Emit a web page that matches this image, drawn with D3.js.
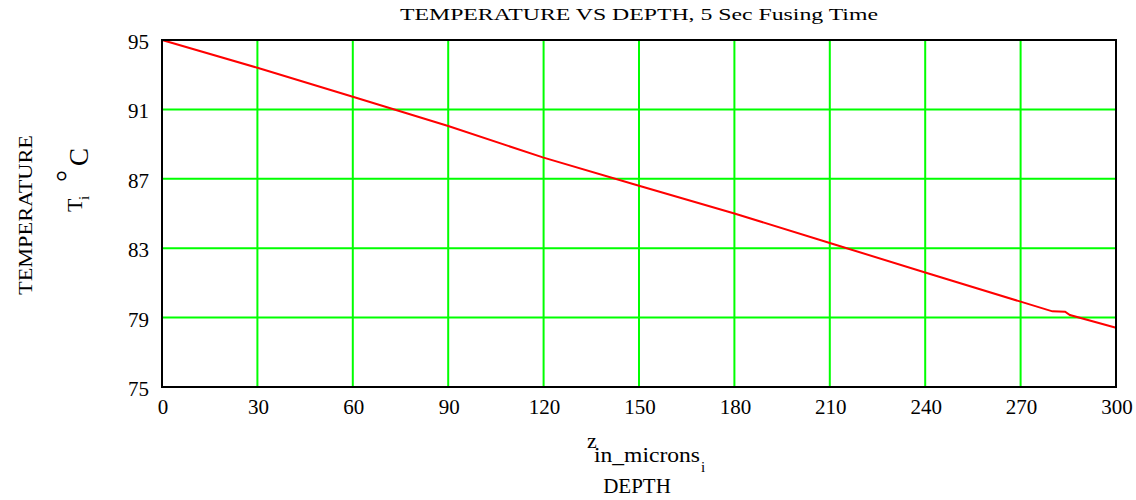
<!DOCTYPE html><html><meta charset="UTF-8">
<title>Temperature vs depth</title>
<style>
body { margin: 0; background: #fff; overflow: hidden; }
text { font-family: "Liberation Serif", "DejaVu Serif", serif; fill: #000; }
.grid line { stroke: #00ff00; stroke-width: 2px; }
.frame { fill: none; stroke: #000; stroke-width: 2px; }
.curve { fill: none; stroke: #ff0000; stroke-width: 2px; }
</style>
<script src="https://cdn.jsdelivr.net/npm/d3@7"></script>
<svg width="1136" height="500"></svg>
<script>

// depth in microns and temperature in degrees C
var depth       = [0,  30,   60,    90,    120,   150,  180,  210,  240,  270,   280,   284,   285.5, 300];
var temperature = [95, 93.4, 91.73, 90.04, 88.22, 86.6, 85.0, 83.3, 81.6, 79.92, 79.36, 79.34, 79.15, 78.42];

var xTicks = [0, 30, 60, 90, 120, 150, 180, 210, 240, 270, 300];
var yTicks = [75, 79, 83, 87, 91, 95];

var svg = d3.select("svg");
// plot box (note: "top" is taken by window.top)
var plotL = 162, plotR = 1116, plotT = 40, plotB = 387;

var x = d3.scaleLinear().domain([0, 300]).range([plotL, plotR]);
var y = d3.scaleLinear().domain([75, 95]).range([plotB, plotT]);

// grid
var grid = svg.append("g").attr("class", "grid");
grid.selectAll(".vx")
    .data(xTicks.slice(1, -1))
    .enter().append("line")
    .attr("x1", d => x(d)).attr("x2", d => x(d))
    .attr("y1", plotT).attr("y2", plotB);
grid.selectAll(".hy")
    .data(yTicks.slice(1, -1))
    .enter().append("line")
    .attr("x1", plotL).attr("x2", plotR)
    .attr("y1", d => y(d)).attr("y2", d => y(d));

// the curve
var pts = depth.map((d, i) => [d, temperature[i]]);
svg.append("path")
    .datum(pts)
    .attr("class", "curve")
    .attr("d", d3.line().x(d => x(d[0])).y(d => y(d[1])));

svg.append("rect").attr("class", "frame")
    .attr("x", plotL).attr("y", plotT)
    .attr("width", plotR - plotL).attr("height", plotB - plotT);

// tick labels
svg.selectAll(".xl")
    .data(xTicks)
    .enter().append("text")
    .attr("x", d => x(d) + 1).attr("y", 414)
    .attr("text-anchor", "middle")
    .style("font-size", "21px")
    .text(d => d);

svg.selectAll(".yl")
    .data(yTicks)
    .enter().append("text")
    .attr("x", 149).attr("y", d => y(d) + 9)
    .attr("text-anchor", "end")
    .style("font-size", "21px")
    .text(d => d);

// title
svg.append("text")
    .attr("x", 400).attr("y", 20)
    .attr("textLength", 478).attr("lengthAdjust", "spacingAndGlyphs")
    .style("font-size", "16px")
    .text("TEMPERATURE VS DEPTH, 5 Sec Fusing Time");

// y axis labels
svg.append("text")
    .attr("transform", "translate(32,295) rotate(-90)")
    .attr("textLength", 160).attr("lengthAdjust", "spacingAndGlyphs")
    .style("font-size", "18px")
    .text("TEMPERATURE");

svg.append("text")
    .attr("transform", "translate(82,212) rotate(-90)")
    .style("font-size", "22px").text("T");
svg.append("text")
    .attr("transform", "translate(89,200) rotate(-90)")
    .style("font-size", "15px").text("i");
svg.append("text")
    .attr("transform", "translate(77,182) rotate(-90)")
    .style("font-size", "30px").text("°");
svg.append("text")
    .attr("transform", "translate(88,166) rotate(-90)")
    .style("font-size", "27px").text("C");

// x axis labels
svg.append("text")
    .attr("x", 587).attr("y", 448)
    .style("font-size", "22px").text("z");
svg.append("text")
    .attr("x", 594).attr("y", 462)
    .attr("textLength", 106).attr("lengthAdjust", "spacingAndGlyphs")
    .style("font-size", "21px").text("in_microns");
svg.append("text")
    .attr("x", 701).attr("y", 472)
    .style("font-size", "15px").text("i");

svg.append("text")
    .attr("x", 637).attr("y", 493)
    .attr("text-anchor", "middle")
    .style("font-size", "21px")
    .text("DEPTH");

</script>
